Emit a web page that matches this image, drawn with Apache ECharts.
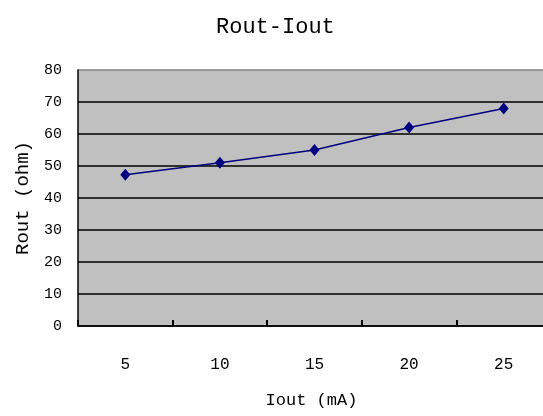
<!DOCTYPE html>
<html>
<head>
<meta charset="utf-8">
<script src="https://cdn.jsdelivr.net/npm/echarts@6/dist/echarts.min.js"></script>
<style>html,body{margin:0;padding:0;background:#fff;overflow:hidden;}#c{width:560px;height:416px;}</style>
</head>
<body>
<div id="c"></div>
<script>
var categories = ['5', '10', '15', '20', '25'];
var routValues = [47.3, 51, 55, 62, 68];
var titleText = 'Rout-Iout';
var xName = 'Iout (mA)';
var yName = 'Rout (ohm)';

var FONT = '"Liberation Mono", monospace';
var chart = echarts.init(document.getElementById('c'), null, {renderer: 'canvas'});
var gridColors = ['#000','#000','#000','#000','#000','#000','#000','#000','#808080'];
chart.setOption({
  backgroundColor: '#ffffff',
  animation: false,
  title: {
    text: titleText, left: 211, top: 11,
    textStyle: {fontFamily: FONT, fontSize: 22, fontWeight: 'normal', color: '#000'}
  },
  grid: {left: 78, top: 70, right: 9, bottom: 90, show: true, backgroundColor: '#c0c0c0', borderWidth: 0},
  xAxis: {
    type: 'category', data: categories, boundaryGap: true,
    name: xName, nameLocation: 'middle', nameGap: 66,
    nameTextStyle: {fontFamily: FONT, fontSize: 17, color: '#000', padding: [0, 6, 0, 0]},
    axisLine: {lineStyle: {color: '#000', width: 1.5}},
    axisTick: {show: true, inside: true, length: 6, interval: 0, lineStyle: {color: '#000', width: 2}},
    axisLabel: {fontFamily: FONT, fontSize: 16, color: '#000', margin: 31}
  },
  yAxis: {
    type: 'value', min: 0, max: 80, interval: 10,
    name: yName, nameLocation: 'middle', nameGap: 46,
    nameTextStyle: {fontFamily: FONT, fontSize: 19, color: '#000'},
    axisLine: {show: true, lineStyle: {color: '#000', width: 1.5}},
    axisTick: {show: false},
    axisLabel: {fontFamily: FONT, fontSize: 15, color: '#000', margin: 16},
    splitLine: {show: true, lineStyle: {color: gridColors, width: 1.5}}
  },
  series: [{
    type: 'line', data: routValues,
    symbol: 'diamond', symbolSize: [10, 12],
    lineStyle: {color: '#000080', width: 1.5},
    itemStyle: {color: '#000080'}
  }]
});
</script>
</body>
</html>
